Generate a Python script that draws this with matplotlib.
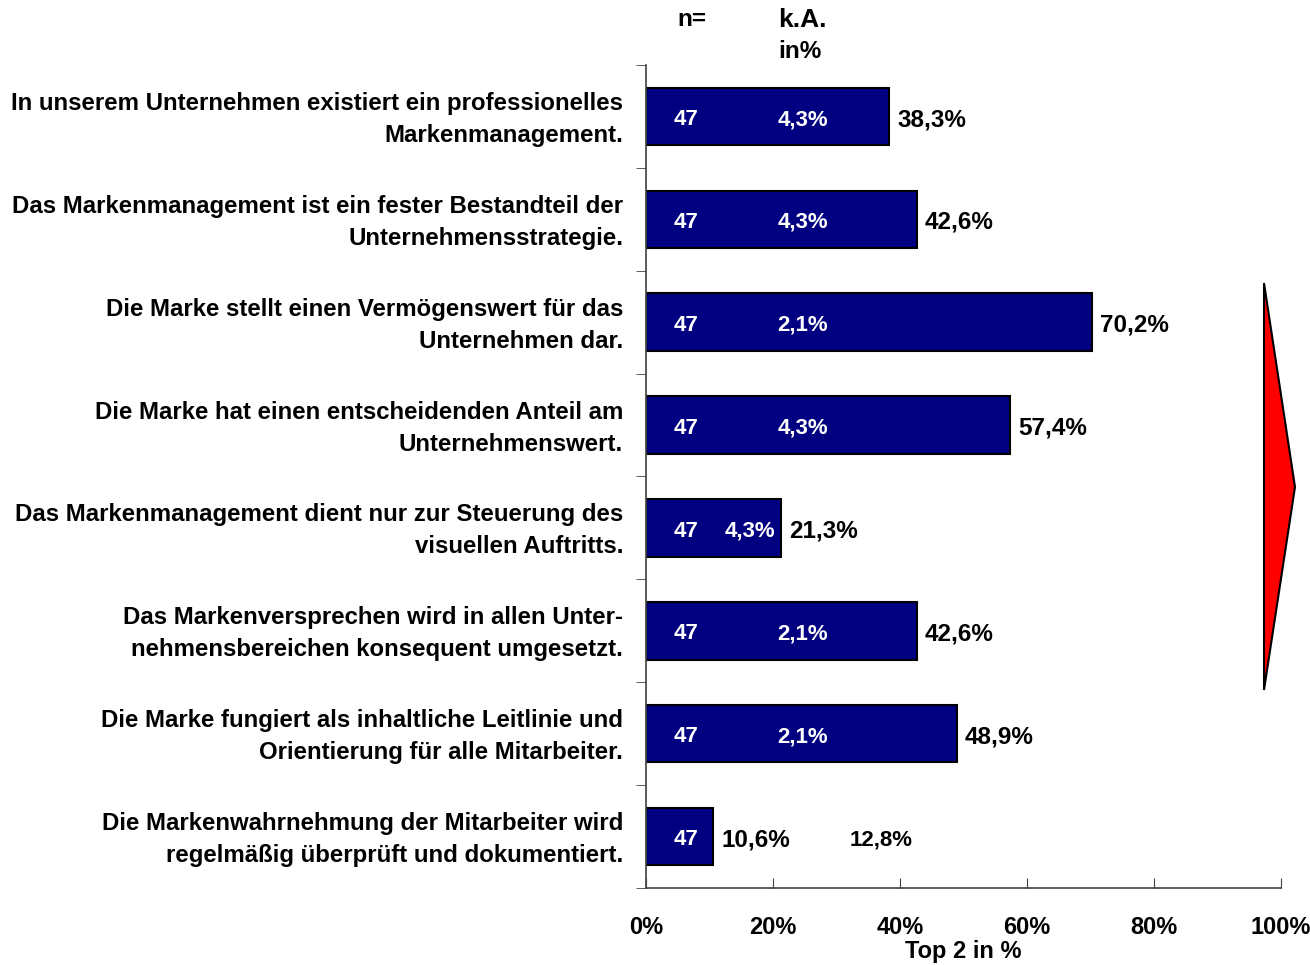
import matplotlib.pyplot as plt
import matplotlib.transforms as mtransforms
from matplotlib.patches import Polygon

plt.rcParams['font.family'] = ['Liberation Sans', 'DejaVu Sans']
plt.rcParams['font.weight'] = 'bold'

#%% data
labels = [
    'In unserem Unternehmen existiert ein professionelles\nMarkenmanagement.',
    'Das Markenmanagement ist ein fester Bestandteil der\nUnternehmensstrategie.',
    'Die Marke stellt einen Vermögenswert für das\nUnternehmen dar.',
    'Die Marke hat einen entscheidenden Anteil am\nUnternehmenswert.',
    'Das Markenmanagement dient nur zur Steuerung des\nvisuellen Auftritts.',
    'Das Markenversprechen wird in allen Unter-\nnehmensbereichen konsequent umgesetzt.',
    'Die Marke fungiert als inhaltliche Leitlinie und\nOrientierung für alle Mitarbeiter.',
    'Die Markenwahrnehmung der Mitarbeiter wird\nregelmäßig überprüft und dokumentiert.',
]
top2 = [38.3, 42.6, 70.2, 57.4, 21.3, 42.6, 48.9, 10.6]
n_values = [47, 47, 47, 47, 47, 47, 47, 47]
ka_values = [4.3, 4.3, 2.1, 4.3, 4.3, 2.1, 2.1, 12.8]
xticks = [0, 20, 40, 60, 80, 100]

def de_pct(v):
    return '{:.1f}%'.format(v).replace('.', ',')

#%% plot
fig = plt.figure(figsize=(13.1, 9.65), dpi=100)
ax = fig.add_axes([646/1310, 1-888/965, 635/1310, 823/965])

ypos = list(range(len(labels)))
ax.barh(ypos, top2, height=0.56, color='#000080', edgecolor='black', linewidth=1.5)
ax.set_xlim(0, 100)
ax.set_ylim(len(labels)-0.5, -0.5)

ax.set_yticks(ypos)
ax.set_yticklabels(labels, fontsize=17.3, linespacing=1.5)
ax.set_yticks([y-0.5 for y in range(len(labels)+1)], minor=True)
ax.tick_params(axis='y', which='major', length=0, pad=16.5)
ax.tick_params(axis='y', which='minor', length=7, direction='out', color='#404040')

# nudge the two-line labels up a few pixels
offset = mtransforms.ScaledTranslation(0, 4/100, fig.dpi_scale_trans)
for lab in ax.get_yticklabels():
    lab.set_transform(lab.get_transform() + offset)

ax.set_xticks(xticks)
ax.set_xticklabels(['{}%'.format(t) for t in xticks], fontsize=17)
ax.tick_params(axis='x', direction='in', length=7, pad=20, color='#404040')
ax.set_xlabel('Top 2 in %', fontsize=17, fontweight='bold', labelpad=1)

for s in ['top', 'right']:
    ax.spines[s].set_visible(False)
for s in ['left', 'bottom']:
    ax.spines[s].set_color('#404040')
    ax.spines[s].set_linewidth(1.2)

dy = 0.03  # text sits a little below the bar centre
for i, (v, n, ka) in enumerate(zip(top2, n_values, ka_values)):
    ax.text(6.3, i + dy, str(n), color='white', fontsize=16, ha='center', va='center')
    ax.text(v + 1.3, i + dy, de_pct(v), color='black', fontsize=17.5, ha='left', va='center')
    if v > 30:
        ax.text(24.7, i + dy, de_pct(ka), color='white', fontsize=16, ha='center', va='center')
    elif v > 15:
        ax.text(v - 0.9, i + dy, de_pct(ka), color='white', fontsize=16, ha='right', va='center')
    else:
        ax.text(37.0, i + dy, de_pct(ka), color='black', fontsize=16, ha='center', va='center')

# column headers
fig.text(692/1310, 1-20/965, 'n=', fontsize=17.5, ha='center', va='center')
fig.text(778/1310, 1-20/965, 'k.A.', fontsize=19, ha='left', va='center')
fig.text(778/1310, 1-52/965, 'in%', fontsize=17.5, ha='left', va='center')

# red arrow on the right
tri = Polygon([(1264/1310, 1-283/965), (1295/1310, 1-487/965), (1264/1310, 1-690/965)],
              closed=True, facecolor='red', edgecolor='black', linewidth=1.5,
              transform=fig.transFigure)
fig.patches.append(tri)

fig.savefig('out.png', dpi=100)
